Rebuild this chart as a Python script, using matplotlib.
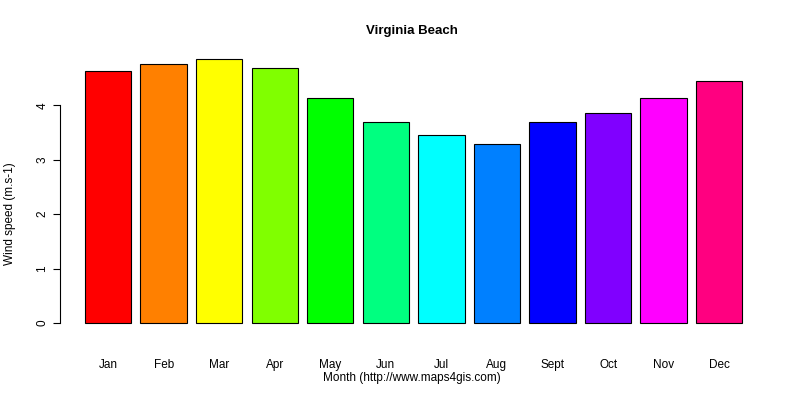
import matplotlib
matplotlib.use("Agg")
import matplotlib.pyplot as plt

months = ["Jan","Feb","Mar","Apr","May","Jun","Jul","Aug","Sept","Oct","Nov","Dec"]
speed = [4.62,4.75,4.84,4.68,4.13,3.69,3.45,3.28,3.69,3.85,4.13,4.44]
colors = ["#FF0000","#FF8000","#FFFF00","#80FF00","#00FF00","#00FF80",
          "#00FFFF","#0080FF","#0000FF","#8000FF","#FF00FF","#FF0080"]

plt.rcParams['font.family'] = ['Liberation Sans', 'DejaVu Sans']
fig = plt.figure(figsize=(8,4), dpi=100)
W, H = 800, 400
l, r, t, b = 49, 769, 48, 334
ax = fig.add_axes([l/W, 1-b/H, (r-l)/W, (b-t)/H])
x = [0.2 + 1.2*i + 0.5 for i in range(len(months))]
ax.bar(x, speed, width=1.0, color=colors, edgecolor="black", linewidth=0.8)
ax.set_xlim(-0.576, 14.976)
ax.set_ylim(-0.2, 5.05)
for s in ["top","right","bottom"]:
    ax.spines[s].set_visible(False)
ax.spines["left"].set_bounds(0,4)
ax.spines["left"].set_position(("axes", 11/(r-l)))
ax.set_yticks([0,1,2,3,4])
ax.set_yticklabels(["0","1","2","3","4"], rotation=90, va="center", fontsize=8.5)
ax.tick_params(axis="y", length=5)
ax.set_xticks(x)
ax.set_xticklabels(months, fontsize=8.5)
ax.tick_params(axis="x", length=0, pad=18)
fig.text(412/W, 1-31/H, "Virginia Beach", ha="center", va="center", fontsize=9.5, fontweight="bold")
fig.text(412/W, 1-378/H, "Month (http://www.maps4gis.com)", ha="center", va="center", fontsize=8.5)
fig.text(10/W, 1-214/H, "Wind speed (m.s-1)", ha="center", va="center", rotation=90, fontsize=8.5)
fig.savefig("out.png", dpi=100)
